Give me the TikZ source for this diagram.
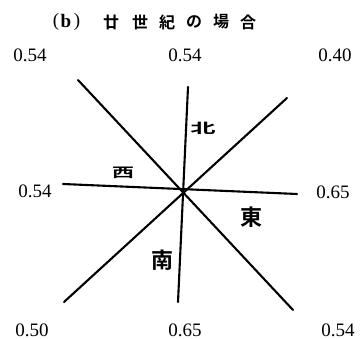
\documentclass[tikz,border=0pt]{standalone}
\usepackage{fontspec}
\usepackage{graphicx}
\setmainfont{Liberation Serif}
\newfontfamily\cjk[BoldFont={Noto Sans CJK JP Bold}]{Noto Sans CJK JP}
\begin{document}
\begin{tikzpicture}[x=1pt,y=1pt,
  num/.style={font=\fontsize{19}{19}\selectfont, inner sep=0pt, anchor=center},
  ttl/.style={font=\cjk\bfseries\fontsize{16}{16}\selectfont, inner sep=0pt, anchor=center},
  par/.style={font=\fontsize{19}{19}\selectfont, inner sep=0pt, anchor=center},
  dir/.style={font=\cjk\bfseries\fontsize{22}{22}\selectfont, inner sep=0pt, anchor=center},
  ray/.style={line width=2.1pt, line cap=round}]
\useasboundingbox (0,0) rectangle (361,339);
% title
\node[par] (t1) at (56,317) {(};
\node[par, font=\bfseries\fontsize{19}{19}\selectfont] (tb) at (66,318) {b};
\node[par] (t1b) at (77,317) {)};
\node[ttl] (t2) at (111,317) {廿};
\node[ttl] (t3) at (140,317) {世};
\node[ttl] (t4) at (167,317) {紀};
\node[ttl] (t5) at (194,317) {の};
\node[ttl] (t6) at (221,317) {場};
\node[ttl] (t7) at (248,317) {合};
% coordinates (y = 339 - image y)
\coordinate (nw) at (78,259);
\coordinate (se) at (293,29);
\coordinate (n) at (188,252);
\coordinate (s) at (178,37);
\coordinate (ne) at (287,241);
\coordinate (sw) at (64,37);
\coordinate (w) at (63,155);
\coordinate (e) at (297,145);
\draw[ray] (nw) -- (se);
\draw[ray] (n) -- (s);
\draw[ray] (ne) -- (sw);
\draw[ray] (w) -- (e);
% numbers
\node[num] (v1) at (30,284) {0.54};
\node[num] (v2) at (185,284) {0.54};
\node[num] (v3) at (335,284) {0.40};
\node[num] (v4) at (35,148) {0.54};
\node[num] (v5) at (333,147) {0.65};
\node[num] (v6) at (32,9) {0.50};
\node[num] (v7) at (185,9) {0.65};
\node[num] (v8) at (338,9) {0.54};
% directions
\node[dir] (north) at (203,211) {\scalebox{1.15}[0.62]{北}};
\node[dir] (west) at (123,166) {\scalebox{1.0}[0.6]{西}};
\node[dir] (east) at (251,122) {東};
\node[dir] (south) at (162,79) {南};
\end{tikzpicture}
\end{document}
